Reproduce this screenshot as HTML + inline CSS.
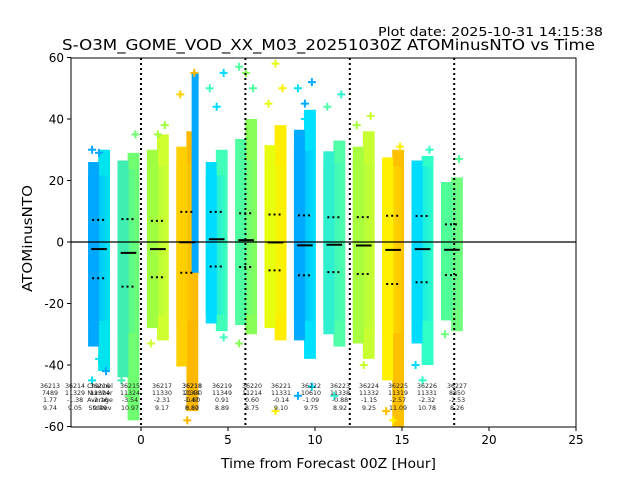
<!DOCTYPE html>
<html><head><meta charset="utf-8">
<style>
body{margin:0;background:#fff;}
svg{display:block;font-family:"DejaVu Sans","Liberation Sans",sans-serif;}
</style></head>
<body>
<svg id="chart" width="640" height="480" viewBox="0 0 640 480">
<rect width="640" height="480" fill="#fff"/>
<defs id="defs"></defs>
<g id="plot"></g>
<rect x="71" y="58" width="505" height="369" fill="none" stroke="#000" stroke-width="1"/>
<g id="axes"></g>
<g id="stats" font-size="6.3" fill="#222" text-anchor="middle"></g>
<text x="378" y="36" font-size="12.5" textLength="225" lengthAdjust="spacingAndGlyphs">Plot date: 2025-10-31 14:15:38</text>
<text x="62" y="50" font-size="15.5" textLength="533" lengthAdjust="spacingAndGlyphs">S-O3M_GOME_VOD_XX_M03_20251030Z ATOMinusNTO vs Time</text>
<text x="221" y="468" font-size="13" textLength="215" lengthAdjust="spacingAndGlyphs">Time from Forecast 00Z [Hour]</text>
<text x="32" y="292" font-size="13" textLength="107" lengthAdjust="spacingAndGlyphs" transform="rotate(-90 32 292)">ATOMinusNTO</text>
</svg>
<script>
// ---- data ----
const orbits = [36214,36215,36217,36218,36219,36220,36221,36222,36223,36224,36225,36226,36227];
const centers = [-2.41,-0.72,0.97,2.66,4.35,6.04,7.73,9.42,11.11,12.8,14.49,16.18,17.87];
const means = [-2.3,-3.54,-2.31,-0.1,0.91,0.6,-0.14,-1.09,-0.88,-1.15,-2.57,-2.32,-2.53];
const sds = [9.5,10.97,9.17,9.9,8.89,8.75,9.1,9.75,8.92,9.25,11.09,10.78,8.26];
const highs = [22,24,25,26,22,27,25,30,26,26,25,25,18];
const lows = [-26,-30,-24,-26,-24,-24,-24,-26,-26,-28,-30,-26,-22];
const tailHighs = [30,29,35,36,30,40,38,43,33,36,30,28,21];
const tailLows = [-42,-58,-32,-55,-29,-30,-32,-38,-34,-38,-60,-40,-29];
const colLeft = ['#00a8ff','#40eeb0','#a0ff40','#ffd000','#00dcff','#50ffa0','#e8ff10','#00aaff','#30f0d0','#a8ff40','#fff000','#00dcff','#50ff98'];
const colRight = ['#00e4f0','#70ff70','#d0ff30','#ffb800','#40ffb8','#88ff58','#ffee00','#00e0ff','#50ffa8','#c8ff30','#ffc000','#30ffc8','#70ff80'];
const outCol = [0,0,0,0,0,1,1,1,2,2,2,3,3,3,4,4,4,4,5,5,5,5,6,6,6,6,7,7,7,7,7,7,8,8,8,9,9,9,10,10,10,11,11,11,12,12];
const outVal = [30,-38,-42,-45,29,35,-45,-50,38,-33,35,55,48,-58,55,50,44,-31,57,55,50,-33,58,50,45,-55,52,50,45,-47,-50,40,48,44,-50,41,38,-40,31,-55,-58,30,-40,-45,27,-30];
const streakTop = 55, streakBottom = -10;
const statX = [50,75,100,130,162,192,192,222,252,281,311,340,369,398,427,457];
const statL1 = ['36213','36214','36216','36215','36217','36218','36218','36219','36220','36221','36222','36223','36224','36225','36226','36227'];
const statL2 = ['7489','11329','11324','11324','11330','11330','2144','11349','11214','11331','10610','11338','11332','11319','11331','8850'];
const statL3 = ['1.77','-1.38','-2.16','-3.54','-2.31','1.47','-0.80','0.91','0.60','-0.14','-1.09','-0.88','-1.15','-2.57','-2.32','-2.53'];
const statL4 = ['9.74','9.05','9.49','10.97','9.17','8.87','0.80','8.89','8.75','9.10','9.75','8.92','9.25','11.09','10.78','8.26'];
const xTicks = [0,5,10,15,20,25];
const yTicks = [60,40,20,0,-20,-40,-60];
const vLines = [0,6,12,18];
// ---- scales ----
const X = h => 141 + h*17.4;
const Y = v => 242 - v*3.075;
const NS='http://www.w3.org/2000/svg';
function mk(tag, attrs, parent){const e=document.createElementNS(NS,tag);for(const k in attrs)e.setAttribute(k,attrs[k]);parent.appendChild(e);return e;}
const plot=document.getElementById('plot'), defs=document.getElementById('defs'), axes=document.getElementById('axes'), stats=document.getElementById('stats');
const halfW = 0.63;
centers.forEach((c,i)=>{
  const g=mk('linearGradient',{id:'g'+i,x1:'0',x2:'1',y1:'0',y2:'0'},defs);
  mk('stop',{offset:'0',"stop-color":colLeft[i]},g);
  mk('stop',{offset:'1',"stop-color":colRight[i]},g);
  const r=mk('rect',{x:X(c-halfW),y:Y(highs[i]),width:X(c+halfW)-X(c-halfW),height:Y(lows[i])-Y(highs[i]),fill:'url(#g'+i+')'},plot);
  
  
  const tu=mk('rect',{x:X(c-0.05),y:Y(tailHighs[i]),width:X(c+halfW)-X(c-0.05),height:Y(highs[i])-Y(tailHighs[i])+1,fill:colRight[i]},plot);
  
  
  const tl=mk('rect',{x:X(c-0.05),y:Y(lows[i])-1,width:X(c+halfW)-X(c-0.05),height:Y(tailLows[i])-Y(lows[i])+1,fill:colRight[i]},plot);
  
  
  const ml=mk('rect',{x:X(c-halfW),y:Y((tailHighs[i]+highs[i])/2),width:X(c)-X(c-halfW),height:Y((tailLows[i]+lows[i])/2)-Y((tailHighs[i]+highs[i])/2),fill:colLeft[i]},plot);
  
  
});
const st=mk('rect',{x:X(centers[3]+0.25),y:Y(streakTop),width:7,height:Y(streakBottom)-Y(streakTop),fill:'#00a8ff'},plot);


outVal.forEach((v,k)=>{
  const c=centers[outCol[k]]+((k%3)-1)*0.4;
  const p=mk('path',{d:`M${X(c)-4},${Y(v)}h8M${X(c)},${Y(v)-4}v8`,stroke:(k%2?colRight:colLeft)[outCol[k]],"stroke-width":2},plot);
  
  
});
const z=mk('line',{x1:71,x2:576,y1:Y(0),y2:Y(0),stroke:'#000','stroke-width':1.3},plot);


centers.forEach((c,i)=>{
  const m=mk('line',{x1:X(c-0.45),x2:X(c+0.45),y1:Y(means[i]),y2:Y(means[i]),stroke:'#000','stroke-width':2},plot);
  
  
  [1,-1].forEach(s=>{
    const d=mk('line',{x1:X(c-0.4),x2:X(c+0.4),y1:Y(means[i]+s*sds[i]),y2:Y(means[i]+s*sds[i]),stroke:'#000','stroke-width':2,'stroke-dasharray':'2,3'},plot);
    
    
  });
});
vLines.forEach(h=>{
  const l=mk('line',{x1:X(h),x2:X(h),y1:58,y2:427,stroke:'#000','stroke-width':2,'stroke-dasharray':'2,3'},plot);
  
  
});
xTicks.forEach(t=>{
  mk('line',{x1:X(t),x2:X(t),y1:427,y2:431,stroke:'#000'},axes);
  const tx=mk('text',{x:X(t),y:444,'font-size':12,'text-anchor':'middle'},axes);
  tx.textContent=t;
  
  
});
yTicks.forEach(t=>{
  mk('line',{x1:67,x2:71,y1:Y(t),y2:Y(t),stroke:'#000'},axes);
  const tx=mk('text',{x:64,y:Y(t)+4.5,'font-size':12,'text-anchor':'end'},axes);
  tx.textContent=t;
  
  
});
const rows=[statL1,statL2,statL3,statL4], rowY=[388,395,402,410];
statX.forEach((x,i)=>{
  rows.forEach((r,j)=>{
    const t=mk('text',{x:x,y:rowY[j]},stats);
    t.textContent=r[i];
    
    
  });
});
['Channel','Number','Average','StdDev'].forEach((s,j)=>{
  const t=mk('text',{x:100,y:rowY[j]},stats);
  t.textContent=s;
  
  
});
</script>
</body></html>
